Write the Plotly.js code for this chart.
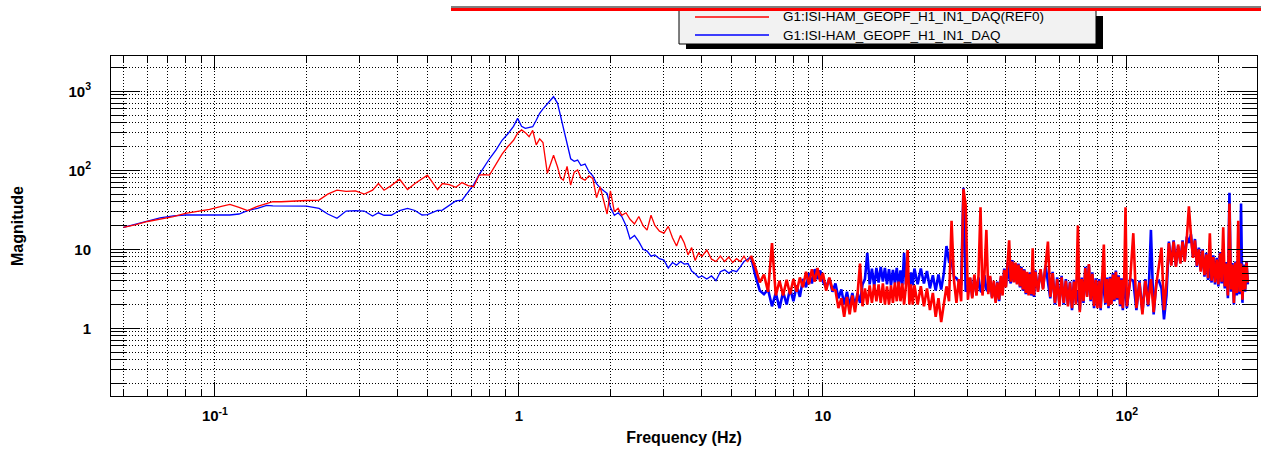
<!DOCTYPE html>
<html>
<head>
<meta charset="utf-8">
<script src="https://cdn.plot.ly/plotly-3.0.1.min.js"></script>
<style>
  html, body { margin: 0; padding: 0; background: #ffffff; }
  #chart { width: 1261px; height: 459px; }
</style>
</head>
<body>
<div id="chart"></div>
<script>
// ---------------- DATA ----------------
const seriesNames = ['G1:ISI-HAM_GEOPF_H1_IN1_DAQ(REF0)', 'G1:ISI-HAM_GEOPF_H1_IN1_DAQ'];

// Frequencies (Hz) for the low / mid band
const freqLow = [
  0.05, 0.055, 0.06, 0.066, 0.073, 0.08, 0.088, 0.096, 0.105, 0.112,
  0.12, 0.128, 0.138, 0.148, 0.155, 0.165, 0.18, 0.2, 0.22, 0.235,
  0.252, 0.27, 0.29, 0.31, 0.33, 0.345, 0.36, 0.38, 0.405, 0.43,
  0.455, 0.48, 0.5, 0.52, 0.54, 0.56, 0.59, 0.62, 0.65, 0.68,
  0.71, 0.74, 0.77, 0.8, 0.84, 0.88, 0.92, 0.96, 0.99, 1.02,
  1.05, 1.08, 1.11, 1.14, 1.17, 1.2, 1.24, 1.27, 1.3, 1.34,
  1.37, 1.4, 1.44, 1.48, 1.52, 1.56, 1.6, 1.65, 1.7, 1.75,
  1.8, 1.85, 1.9, 1.95, 2.0, 2.06, 2.12, 2.18, 2.25, 2.32,
  2.4, 2.48, 2.56, 2.64, 2.72, 2.8, 2.9, 3.0, 3.1, 3.2,
  3.3, 3.4, 3.5, 3.6, 3.7, 3.8, 3.9, 4.0, 4.15, 4.3,
  4.45, 4.6, 4.75, 4.9, 5.05, 5.2, 5.35, 5.5, 5.65, 5.8
];
const redLow = [
  19, 20.5, 22.5, 24, 26, 28.5, 30, 32, 35, 37,
  34, 31, 35, 38, 40, 40, 41, 41.5, 42, 50,
  56, 54, 55, 50, 56, 68, 56, 64, 77, 57,
  68, 78, 87, 70, 57, 68, 66, 61, 70, 64,
  62, 87, 88, 87, 118, 160, 200, 240, 295, 325,
  300, 266, 320, 210, 250, 225, 92, 120, 155, 110,
  80, 75, 112, 65, 95, 101, 80, 75, 85, 79,
  45, 62, 40, 28, 55, 30, 33, 27, 29, 24,
  21, 26, 20, 17.5, 27, 20, 17, 16, 19.5, 14,
  11, 15, 12, 8.5, 10.5, 7.2, 9, 8.1, 9.8, 7.5,
  7, 8.2, 7, 8, 6.8, 7.6, 7.0, 8.2, 6.9, 8.3
];
const blueLow = [
  19, 21, 23, 25, 26.5, 27.2, 27.2, 27.2, 27.2, 27.2,
  28, 30.8, 33, 36, 35.5, 35.3, 35.3, 35.3, 33, 28,
  24.7, 30.5, 30.8, 30.5, 26.4, 29, 27, 27, 31, 33,
  31, 27.2, 27.5, 29, 31, 31.4, 36, 41, 42, 53,
  66, 88, 112, 140, 180, 240, 290, 360, 455, 360,
  340, 345, 356, 430, 527, 600, 700, 780, 855, 705,
  500, 356, 220, 140, 130, 135, 115, 120, 96, 85,
  68, 60, 55, 51, 34, 27, 29, 26, 20, 13.5,
  15, 12.5, 10, 9.5, 8.2, 8.5, 7.6, 7.3, 5.8, 6.8,
  6.3, 7, 6.5, 6.6, 5.3, 4.9, 4.4, 4.6, 4.2, 4.6,
  4.0, 5.2, 5.5, 5.0, 5.4, 5.2, 6.0, 7.0, 7.5, 8.1
];

// Frequencies (Hz) for the dense high band
const freqHigh = [
  6.0, 6.2, 6.4, 6.6, 6.8, 7.0, 7.2, 7.4, 7.6, 7.8, 8.0, 8.2, 8.4, 8.6, 8.8, 9.0, 9.2, 9.4, 9.6, 9.8, 10.0,
  10.25, 10.5, 10.75, 11, 11.25, 11.5, 11.75, 12, 12.25, 12.5,
  12.75, 13, 13.25, 13.5, 13.75, 14, 14.25, 14.5, 14.75, 15,
  15.25, 15.5, 15.75, 16, 16.25, 16.5, 16.75, 17, 17.25, 17.5,
  17.75, 18, 18.25, 18.5, 18.75, 19, 19.25, 19.5, 19.75, 20,
  20.5, 21, 21.5, 22, 22.5, 23, 23.5, 24, 24.5, 25,
  25.5, 26, 26.5, 27, 27.5, 28, 28.5, 29, 29.5, 30,
  30.5, 31, 31.5, 32, 32.5, 33, 33.5, 34, 34.5, 35,
  35.5, 36, 36.5, 37, 37.5, 38, 38.5, 39, 39.5, 40,
  40.5, 41, 41.5, 42, 42.5, 43, 43.5, 44, 44.5, 45,
  45.5, 46, 46.5, 47, 47.5, 48, 48.5, 49, 49.5, 50,
  51, 52, 53, 54, 55, 56, 57, 58, 59, 60,
  61, 62, 63, 64, 65, 66, 67, 68, 69, 70,
  71, 72, 73, 74, 75, 76, 77, 78, 79, 80,
  81, 82, 83, 84, 85, 86, 87, 88, 89, 90,
  91, 92, 93, 94, 95, 96, 97, 98, 99, 100,
  102.5, 105, 107.5, 110, 112.5, 115, 117.5, 120, 122.5, 125,
  127.5, 130, 132.5, 135, 137.5, 140, 142.5, 145, 147.5, 150,
  152.5, 155, 157.5, 160, 162.5, 165, 167.5, 170, 172.5, 175,
  177.5, 180, 182.5, 185, 187.5, 190, 192.5, 195, 197.5, 200,
  202.5, 205, 207.5, 210, 212.5, 215, 217.5, 220, 222.5, 225,
  227.5, 230, 232.5, 235, 237.5, 240, 242.5, 245, 247.5, 250
];
const redHigh = [
  5.8, 3.8, 4.8, 2.9, 12, 2.6, 4.0, 2.6, 4.1, 2.7, 4.2, 2.9, 4.4, 3.3, 5.2, 3.6, 5.6, 3.9, 5.8, 3.9, 5.0,
  3.0, 4.4, 3.1, 3.0, 1.8, 2.4, 1.4, 2.5, 1.5, 2.6,
  1.6, 2.7, 6.6, 1.9, 3.2, 2.0, 3.5, 2.1, 3.6, 2.2,
  3.6, 2.1, 3.7, 2.0, 3.4, 2.0, 3.5, 2.1, 3.8, 2.2,
  3.9, 2.2, 3.7, 2.0, 3.4, 9.8, 2.0, 3.6, 2.0, 3.5,
  2.0, 3.4, 1.9, 3.2, 1.7, 2.8, 1.4, 2.4, 1.2, 2.2,
  3.4, 2.2, 23, 4.0, 2.1, 4.2, 2.2, 58, 36, 2.3,
  4.4, 2.4, 4.8, 2.6, 4.6, 34, 2.6, 4.9, 17.6, 2.7,
  4.6, 2.4, 4.0, 2.1, 3.8, 2.3, 4.6, 2.6, 5.5, 3.3,
  6.5, 13, 3.9, 7.0, 3.8, 6.8, 3.6, 6.4, 3.4, 5.8,
  3.1, 5.4, 2.8, 5.2, 2.6, 4.9, 2.7, 10.3, 2.6, 5.2,
  2.9, 5.6, 3.1, 6.0, 12.5, 2.5, 5.0, 2.1, 4.2, 1.9,
  4.4, 2.1, 4.0, 1.9, 3.8, 1.8, 3.9, 2.0, 20, 1.6,
  4.2, 2.2, 5.8, 2.5, 6.5, 2.3, 4.9, 1.9, 4.1, 1.8,
  4.0, 1.8, 4.4, 11.5, 2.1, 4.2, 1.9, 4.3, 2.0, 4.8,
  2.3, 5.2, 2.4, 4.5, 2.0, 4.1, 1.8, 4.2, 34, 1.9,
  4.0, 16, 1.8, 3.8, 1.5, 4.0, 2.0, 4.2, 1.6, 3.6,
  6.2, 10.5, 1.7, 3.8, 12, 6.2, 12.5, 6.0, 11.5, 6.6,
  12.5, 7.0, 14, 35, 15, 7.8, 13, 6.2, 10, 5.2,
  9.6, 4.7, 8.6, 4.3, 16, 4.0, 8.0, 3.8, 7.4, 3.6,
  8.9, 3.9, 19, 3.4, 6.6, 2.6, 38, 3.1, 6.4, 2.1,
  6.8, 2.8, 23, 2.9, 6.6, 2.3, 6.2, 3.1, 6.8, 3.8
];
const blueHigh = [
  4.6, 3.0, 2.7, 3.1, 1.9, 2.8, 1.8, 2.9, 2.0, 3.2, 2.2, 3.5, 2.5, 4.2, 3.3, 5.0, 3.7, 5.6, 4.2, 5.4, 3.9,
  3.3, 4.3, 2.9, 3.7, 2.4, 3.1, 2.0, 2.9, 1.9, 2.8,
  1.9, 2.8, 2.1, 3.6, 4.2, 9.0, 3.6, 5.7, 3.4, 5.8,
  3.8, 6.0, 3.9, 5.8, 3.6, 5.6, 3.5, 5.5, 3.7, 5.8,
  3.4, 5.4, 3.5, 9.0, 3.6, 5.3, 3.3, 5.1, 3.5, 5.7,
  3.6, 5.7, 3.7, 5.3, 3.2, 4.7, 3.0, 4.8, 3.1, 5.0,
  11, 7.0, 7.2, 4.5, 4.3, 3.9, 3.5, 60, 2.9, 3.4,
  4.3, 2.5, 4.6, 2.7, 4.4, 3.0, 2.8, 4.7, 3.1, 2.9,
  4.4, 2.5, 3.8, 2.2, 3.9, 2.2, 4.4, 2.7, 5.7, 3.4,
  6.8, 4.4, 3.7, 7.3, 3.9, 6.6, 3.7, 6.6, 3.3, 6.0,
  3.0, 5.6, 2.7, 5.0, 2.7, 5.1, 2.6, 4.2, 2.5, 5.4,
  3.0, 5.4, 3.2, 6.2, 4.0, 2.4, 5.2, 2.0, 4.4, 2.0,
  4.6, 2.0, 4.2, 2.0, 3.9, 1.7, 4.1, 2.1, 3.0, 1.7,
  4.4, 2.1, 6.0, 2.6, 6.3, 2.2, 5.1, 1.8, 4.3, 1.9,
  4.2, 1.7, 4.6, 3.0, 2.0, 4.4, 1.8, 4.5, 2.1, 5.0,
  2.2, 5.4, 2.3, 4.7, 1.9, 4.3, 1.7, 4.4, 3.0, 1.8,
  4.2, 4.0, 1.7, 4.0, 1.6, 4.2, 1.9, 17.6, 1.5, 3.8,
  4.0, 3.2, 1.3, 2.6, 12.5, 6.4, 13, 6.2, 11, 6.8,
  13, 7.2, 14.5, 12, 15.5, 8.0, 13.5, 6.0, 10.5, 5.4,
  10, 4.5, 9.0, 4.1, 6.0, 3.8, 8.4, 3.6, 7.8, 3.4,
  9.2, 3.7, 6.0, 3.2, 6.9, 2.4, 52, 2.9, 6.7, 2.0,
  7.0, 2.6, 5.0, 2.7, 38, 2.1, 6.4, 2.9, 7.1, 3.6
];

// Axis tick labels
const xTickVals = [0.1, 1, 10, 100];
const xTickText = ['10<sup>-1</sup>', '1', '10', '10<sup>2</sup>'];
const yTickVals = [1, 10, 100, 1000];
const yTickText = ['1', '10', '10<sup>2</sup>', '10<sup>3</sup>'];

// ---------------- CHART ----------------
const FONT = 'Liberation Sans, Arial, Helvetica, sans-serif';

function minorLogTicks(kFrom, kTo) {
  const out = [];
  for (let k = kFrom; k <= kTo; k++) {
    for (let d = 2; d <= 9; d++) out.push(d * Math.pow(10, k));
  }
  return out;
}

// dense band continues from the last low-band point so the curve is unbroken
const lastLow = freqLow.length - 1;
const freqDense = [freqLow[lastLow]].concat(freqHigh);
const redDense = [redLow[lastLow]].concat(redHigh);
const blueDense = [blueLow[lastLow]].concat(blueHigh);

const BLUE = '#0000ff', RED = '#ff0000';
const traces = [
  { x: freqLow, y: blueLow, type: 'scatter', mode: 'lines', name: seriesNames[1],
    line: { color: BLUE, width: 1.3 }, showlegend: false },
  { x: freqDense, y: blueDense, type: 'scatter', mode: 'lines', name: seriesNames[1],
    line: { color: BLUE, width: 2.6 }, showlegend: false },
  { x: freqLow, y: redLow, type: 'scatter', mode: 'lines', name: seriesNames[0],
    line: { color: RED, width: 1.3 }, showlegend: false },
  { x: freqDense, y: redDense, type: 'scatter', mode: 'lines', name: seriesNames[0],
    line: { color: RED, width: 2.6 }, showlegend: false }
];

// pixel helpers -> paper coords (plot area: x 111..1257, y 56..396)
const L = 111, R = 1257, T = 56, B = 396;
const px = v => (v - L) / (R - L);
const py = v => (B - v) / (B - T);

const GRIDDASH = '1px,2px';
const axisCommon = {
  type: 'log',
  showline: true, linecolor: '#000', linewidth: 1, mirror: 'allticks',
  ticks: 'inside', tickcolor: '#000', tickwidth: 1,
  showgrid: true, gridcolor: '#000', gridwidth: 1, griddash: GRIDDASH,
  zeroline: false,
  tickmode: 'array',
  tickfont: { family: FONT, size: 15, color: '#000', weight: 'bold' }
};

const layout = {
  width: 1261, height: 459,
  margin: { l: L, r: 1261 - R, t: T, b: 459 - B, pad: 0 },
  paper_bgcolor: '#fff', plot_bgcolor: '#fff',
  showlegend: false,
  xaxis: Object.assign({}, axisCommon, {
    range: [Math.log10(0.0455), Math.log10(268)],
    tickvals: xTickVals, ticktext: xTickText,
    ticklen: 14, ticklabelstandoff: 6,
    minor: { tickmode: 'array', tickvals: minorLogTicks(-2, 2), ticks: 'inside', ticklen: 6,
             tickcolor: '#000', tickwidth: 1, showgrid: true, gridcolor: '#000', gridwidth: 1, griddash: GRIDDASH },
    title: { text: '<b>Frequency (Hz)</b>', font: { family: FONT, size: 16, color: '#000' }, standoff: 8 }
  }),
  yaxis: Object.assign({}, axisCommon, {
    range: [Math.log10(0.139), Math.log10(2800)],
    tickvals: yTickVals, ticktext: yTickText,
    ticklen: 29, ticklabelstandoff: 16,
    minor: { tickmode: 'array', tickvals: minorLogTicks(-1, 3), ticks: 'inside', ticklen: 15,
             tickcolor: '#000', tickwidth: 1, showgrid: true, gridcolor: '#000', gridwidth: 1, griddash: GRIDDASH },
    title: { text: '<b>Magnitude</b>', font: { family: FONT, size: 16, color: '#000' }, standoff: 40 }
  }),
  shapes: [
    // legend shadow
    { type: 'rect', xref: 'paper', yref: 'paper', x0: px(686), x1: px(1103), y0: py(49), y1: py(16),
      fillcolor: '#000', line: { width: 0 } },
    // legend box
    { type: 'rect', xref: 'paper', yref: 'paper', x0: px(679), x1: px(1096), y0: py(44), y1: py(10),
      fillcolor: '#f2f2f2', line: { color: '#000', width: 1 } },
    // legend samples
    { type: 'line', xref: 'paper', yref: 'paper', x0: px(695), x1: px(769), y0: py(17), y1: py(17),
      line: { color: RED, width: 1.3 } },
    { type: 'line', xref: 'paper', yref: 'paper', x0: px(695), x1: px(769), y0: py(35), y1: py(35),
      line: { color: BLUE, width: 1.3 } },
    // top header line (black edge + red band)
    { type: 'line', xref: 'paper', yref: 'paper', x0: px(451), x1: px(1261), y0: py(7), y1: py(7),
      line: { color: '#000', width: 1 } },
    { type: 'line', xref: 'paper', yref: 'paper', x0: px(451), x1: px(1261), y0: py(9.5), y1: py(9.5),
      line: { color: RED, width: 3 } }
  ],
  annotations: [
    { xref: 'paper', yref: 'paper', x: px(781), y: py(17), xanchor: 'left', yanchor: 'middle',
      text: seriesNames[0], showarrow: false, font: { family: FONT, size: 13.5, color: '#000' } },
    { xref: 'paper', yref: 'paper', x: px(781), y: py(35), xanchor: 'left', yanchor: 'middle',
      text: seriesNames[1], showarrow: false, font: { family: FONT, size: 13.5, color: '#000' } }
  ]
};

Plotly.newPlot('chart', traces, layout, { staticPlot: true, displayModeBar: false });
</script>
</body>
</html>
